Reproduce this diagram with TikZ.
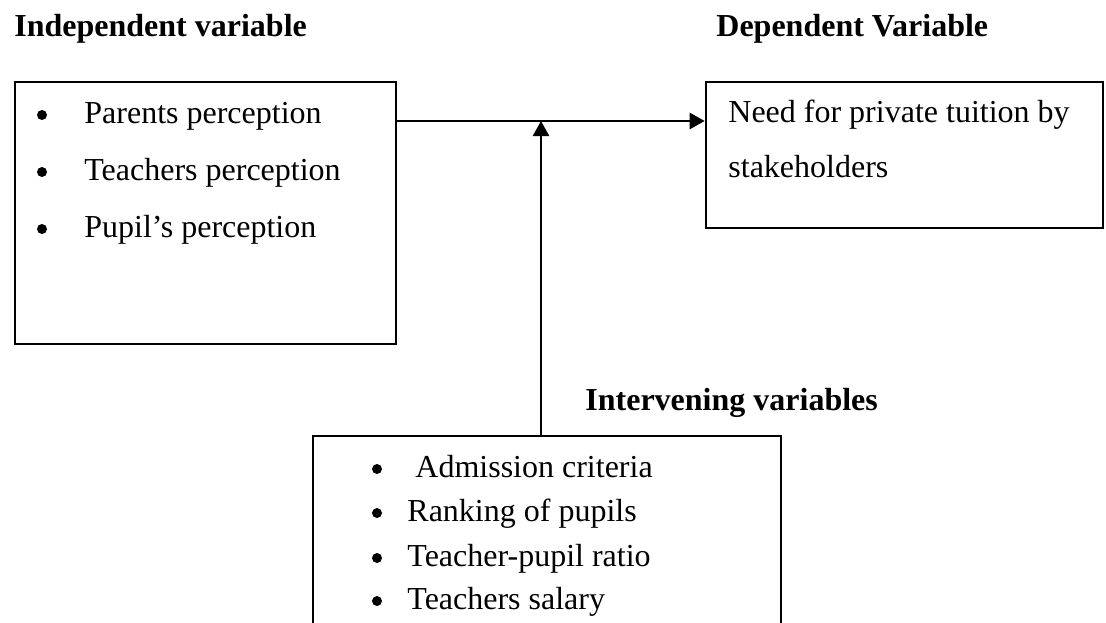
\documentclass[tikz,border=0pt]{standalone}
\usepackage{fontspec}
\setmainfont{Liberation Serif}
\usetikzlibrary{arrows.meta,positioning,calc}

\begin{document}
\begin{tikzpicture}[x=0.5pt,y=-0.5pt,
        box/.style={draw,line width=1.3pt,inner sep=0pt},
        txt/.style={anchor=base west,inner sep=0pt,font=\fontsize{16}{19}\selectfont},
        head/.style={anchor=base west,inner sep=0pt,font=\fontsize{16}{19}\selectfont\bfseries},
        dot/.style={circle,fill,inner sep=0pt,minimum size=5pt},
        flow/.style={-{Triangle[length=7.5pt,width=8pt]},line width=1.3pt}]

        \clip (0,0) rectangle (1106,622);

        % Headings
        \node[head] (indepHead) at (14,36) {Independent variable};
        \node[head] (depHead) at (716,36) {Dependent Variable};
        \node[head] (intervHead) at (585,410) {Intervening variables};

        % Boxes
        \node[box,minimum width=190.5pt,minimum height=131pt] (indep) at (205.5,213) {};
        \node[box,minimum width=198.5pt,minimum height=73pt] (dep) at (904.5,155) {};
        \node[box,minimum width=234pt,minimum height=112pt] (interv) at (547,548) {};

        % Left box list
        \node[dot] (indDot1) at (42,115) {};
        \node[dot] (indDot2) at (42,172) {};
        \node[dot] (indDot3) at (42,229) {};
        \node[txt] (indItem1) at (84,123) {Parents perception};
        \node[txt] (indItem2) at (84,180) {Teachers perception};
        \node[txt] (indItem3) at (84,237) {Pupil’s perception};

        % Right box text
        \node[txt] (depLine1) at (728,122) {Need for private tuition by};
        \node[txt] (depLine2) at (728,177) {stakeholders};

        % Bottom box list
        \node[dot] (intDot1) at (377,469) {};
        \node[dot] (intDot2) at (377,513) {};
        \node[dot] (intDot3) at (377,558) {};
        \node[dot] (intDot4) at (377,601) {};
        \node[txt] (intItem1) at (415,477) {Admission criteria};
        \node[txt] (intItem2) at (407,521) {Ranking of pupils};
        \node[txt] (intItem3) at (407,566) {Teacher-pupil ratio};
        \node[txt] (intItem4) at (407,609) {Teachers salary};

        % Arrows
        \coordinate (join) at (541,121);
        \draw[flow] (indep.east |- join) -- (dep.west |- join);
        \draw[flow] (interv.north -| join) -- (join);

\end{tikzpicture}
\end{document}
